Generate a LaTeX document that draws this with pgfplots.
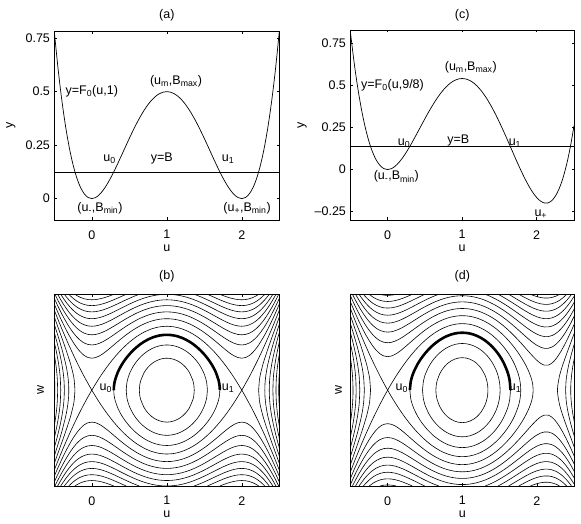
\documentclass[border=0pt]{standalone}
\usepackage{fontspec}
\setmainfont{Liberation Sans}
\usepackage{pgfplots}
\usepackage{pgfplotstable}
\pgfplotsset{compat=1.18}

\pgfplotsset{
  base/.style={scale only axis, anchor=south west, xmin=-0.5, xmax=2.5, clip=true},
  vis/.style={base, xtick={0,1,2}, xticklabels={0,1,2}, tick align=inside, major tick length=2.5pt,
     axis line style={line width=0.6pt}, every tick/.style={black,line width=0.5pt},
     xticklabel style={yshift=-6pt},
     every axis x label/.style={at={(axis description cs:0.5,0)},anchor=center,yshift=-28.5pt},
     xlabel={u}},
  ghost/.style={base, hide axis},
  cl/.style={black, line width=0.6pt, smooth},
  th/.style={black, line width=2.6pt, smooth},
  tl/.style={every axis title/.style={at={(0.5,1)},anchor=center,yshift=#1}},
  yl/.style={every axis y label/.style={at={(axis description cs:0,0.5)},xshift=-#1,rotate=90,anchor=center}},
}

% ---------------- panel (a) curve ----------------
\pgfplotstableread{
u y
-0.50 0.78125
-0.45 0.60775
-0.40 0.4608
-0.35 0.33825
-0.30 0.23805
-0.25 0.15820
-0.20 0.0968
-0.15 0.05200
-0.10 0.02205
-0.05 0.00525
0.00 0
0.05 0.00475
0.10 0.01805
0.15 0.03850
0.20 0.0648
0.25 0.09570
0.30 0.13005
0.35 0.16675
0.40 0.2048
0.45 0.24325
0.50 0.28125
0.55 0.31800
0.60 0.3528
0.65 0.38500
0.70 0.41405
0.75 0.43945
0.80 0.4608
0.85 0.47775
0.90 0.49005
0.95 0.49750
1.00 0.5
1.05 0.49750
1.10 0.49005
1.15 0.47775
1.20 0.4608
1.25 0.43945
1.30 0.41405
1.35 0.38500
1.40 0.3528
1.45 0.31800
1.50 0.28125
1.55 0.24325
1.60 0.2048
1.65 0.16675
1.70 0.13005
1.75 0.09570
1.80 0.0648
1.85 0.03850
1.90 0.01805
1.95 0.00475
2.00 0
2.05 0.00525
2.10 0.02205
2.15 0.05200
2.20 0.0968
2.25 0.15820
2.30 0.23805
2.35 0.33825
2.40 0.4608
2.45 0.60775
2.50 0.78125
}\Fa

% ---------------- panel (c) curve ----------------
\pgfplotstableread{
u y
-0.50 0.822917
-0.45 0.640659
-0.40 0.486133
-0.35 0.357139
-0.30 0.25155
-0.25 0.167318
-0.20 0.102467
-0.15 0.055097
-0.10 0.023383
-0.05 0.005576
0.00 0
0.05 0.005055
0.10 0.019217
0.15 0.041034
0.20 0.069133
0.25 0.102214
0.30 0.13905
0.35 0.178493
0.40 0.219467
0.45 0.260972
0.50 0.302083
0.55 0.341951
0.60 0.3798
0.65 0.414930
0.70 0.446717
0.75 0.474609
0.80 0.498133
0.85 0.516889
0.90 0.53055
0.95 0.538868
1.00 0.541667
1.05 0.538847
1.10 0.530383
1.15 0.516326
1.20 0.4968
1.25 0.472005
1.30 0.442217
1.35 0.407784
1.40 0.369133
1.45 0.326764
1.50 0.28125
1.55 0.233243
1.60 0.183467
1.65 0.132722
1.70 0.081883
1.75 0.031901
1.80 -0.0162
1.85 -0.061320
1.90 -0.102283
1.95 -0.137841
2.00 -0.166667
2.05 -0.187361
2.10 -0.19845
2.15 -0.198382
2.20 -0.185533
2.25 -0.158203
2.30 -0.114617
2.35 -0.052924
2.40 0.0288
2.45 0.132555
2.50 0.260417
}\Fc

% ---------------- panel (b) contours: quarter data (u<=1, w>=0) ----------------
\pgfplotstableread{
u w
-0.5 0.25
-0.495 0.159
-0.4916 0
}\bLsix
\pgfplotstableread{
u w
-0.5 0.5590
-0.49 0.4885
-0.48 0.4087
-0.47 0.3126
-0.46 0.1747
-0.4553 0
}\bLfive
\pgfplotstableread{
u w
-0.5 0.75
-0.475 0.6181
-0.45 0.4642
-0.43 0.3030
-0.42 0.1818
-0.4142 0
}\bLfour
\pgfplotstableread{
u w
-0.5 0.9014
-0.475 0.7950
-0.45 0.6823
-0.425 0.5587
-0.40 0.4142
-0.38 0.2607
-0.37 0.1377
-0.366 0
}\bLthree
\pgfplotstableread{
u w
-0.5 1.0308
-0.45 0.8459
-0.40 0.6493
-0.35 0.4201
-0.33 0.3020
-0.32 0.2262
-0.31 0.1131
-0.3066 0
}\bLtwo
\pgfplotstableread{
u w
-0.5 1.1456
-0.45 0.9826
-0.40 0.8195
-0.35 0.6531
-0.30 0.4755
-0.275 0.3760
-0.25 0.2577
-0.235 0.1608
-0.2247 0
}\bLone
\pgfplotstableread{
u w
0.634 0
0.64 0.0872
0.65 0.1414
0.70 0.2795
0.75 0.3590
0.80 0.4142
0.85 0.4533
0.90 0.4797
0.95 0.4950
1.00 0.5
}\bRthree
\pgfplotstableread{
u w
0.4588 0
0.47 0.1308
0.50 0.25
0.55 0.3688
0.60 0.4534
0.65 0.5196
0.70 0.5728
0.75 0.6156
0.80 0.6493
0.85 0.6749
0.90 0.6929
0.95 0.7036
1.00 0.7071
}\bRtwo
\pgfplotstableread{
u w
0.2929 0
0.295 0.0546
0.30 0.1005
0.31 0.1564
0.35 0.2890
0.40 0.3995
0.45 0.4863
0.50 0.5590
0.55 0.6213
0.60 0.6750
0.65 0.7211
0.70 0.7603
0.75 0.7930
0.80 0.8195
0.85 0.8400
0.90 0.8545
0.95 0.8631
1.00 0.8660
}\bRone
\pgfplotstableread{
u w
-0.5 1.25
-0.4 0.96
-0.3 0.69
-0.2 0.44
-0.1 0.21
0 0
}\bSa
\pgfplotstableread{
u w
0 0
0.1 0.19
0.2 0.36
0.3 0.51
0.4 0.64
0.5 0.75
0.6 0.84
0.7 0.91
0.8 0.96
0.9 0.99
1.0 1.0
}\bSb
\pgfplotstableread{
u w
-0.50 1.3463
-0.45 1.2106
-0.40 1.0824
-0.35 0.9626
-0.30 0.8521
-0.25 0.7526
-0.20 0.6660
-0.15 0.5950
-0.10 0.5423
-0.05 0.5104
0.00 0.5
0.05 0.5094
0.10 0.5349
0.15 0.5718
0.20 0.6161
0.25 0.6644
0.30 0.7142
0.35 0.7639
0.40 0.8122
0.45 0.8582
0.50 0.9014
0.55 0.9413
0.60 0.9775
0.65 1.0100
0.70 1.0383
0.75 1.0625
0.80 1.0824
0.85 1.0980
0.90 1.1091
0.95 1.1158
1.00 1.1180
}\bPone
\pgfplotstableread{
u w
-0.50 1.4361
-0.45 1.3098
-0.40 1.1923
-0.35 1.0847
-0.30 0.9880
-0.25 0.9035
-0.20 0.8328
-0.15 0.7772
-0.10 0.7376
-0.05 0.7145
0.00 0.7071
0.05 0.7138
0.10 0.7322
0.15 0.7596
0.20 0.7935
0.25 0.8315
0.30 0.8718
0.35 0.9130
0.40 0.9537
0.45 0.9932
0.50 1.0308
0.55 1.0658
0.60 1.0980
0.65 1.1269
0.70 1.1524
0.75 1.1743
0.80 1.1923
0.85 1.2064
0.90 1.2166
0.95 1.2227
1.00 1.2247
}\bPtwo
\pgfplotstableread{
u w
-0.4916 1.5
-0.475 1.4602
-0.45 1.4020
-0.40 1.2929
-0.35 1.1944
-0.30 1.1073
-0.25 1.0327
-0.20 0.9714
-0.15 0.9241
-0.10 0.8911
-0.05 0.8721
0.00 0.8660
0.05 0.8715
0.10 0.8866
0.15 0.9094
0.20 0.9379
0.25 0.9703
0.30 1.0050
0.35 1.0409
0.40 1.0769
0.45 1.1120
0.50 1.1456
0.55 1.1773
0.60 1.2065
0.65 1.2329
0.70 1.2562
0.75 1.2763
0.80 1.2929
0.85 1.3059
0.90 1.3153
0.95 1.3210
1.00 1.3229
}\bPthree
\pgfplotstableread{
u w
-0.4553 1.5
-0.45 1.4885
-0.40 1.3862
-0.35 1.2948
-0.30 1.2150
-0.25 1.1473
-0.20 1.0925
-0.15 1.0507
-0.10 1.0218
-0.05 1.0052
0.00 1.0
0.05 1.0047
0.10 1.0179
0.15 1.0378
0.20 1.0628
0.25 1.0915
0.30 1.1225
0.35 1.1548
0.40 1.1873
0.45 1.2192
0.50 1.25
0.55 1.2791
0.60 1.3060
0.65 1.3304
0.70 1.3521
0.75 1.3707
0.80 1.3862
0.85 1.3984
0.90 1.4072
0.95 1.4124
1.00 1.4142
}\bPfour
\pgfplotstableread{
u w
-0.4142 1.5
-0.40 1.4736
-0.35 1.3880
-0.30 1.3138
-0.25 1.2516
-0.20 1.2015
-0.15 1.1636
-0.10 1.1376
-0.05 1.1227
0.00 1.1180
0.05 1.1223
0.10 1.1341
0.15 1.1520
0.20 1.1746
0.25 1.2006
0.30 1.2289
0.35 1.2584
0.40 1.2883
0.45 1.3178
0.50 1.3463
0.55 1.3733
0.60 1.3984
0.65 1.4213
0.70 1.4416
0.75 1.4591
0.80 1.4736
0.85 1.4851
0.90 1.4934
0.95 1.4983
1.00 1.5
}\bPfive
\pgfplotstableread{
u w
-0.366 1.5
-0.35 1.4753
-0.30 1.4057
-0.25 1.3477
-0.20 1.3014
-0.15 1.2665
-0.10 1.2426
-0.05 1.2290
0.00 1.2247
0.05 1.2286
0.10 1.2394
0.15 1.2558
0.20 1.2766
0.25 1.3005
0.30 1.3267
0.35 1.3541
0.40 1.3819
0.45 1.4094
0.50 1.4361
0.55 1.4615
0.60 1.4851
0.634 1.5
}\bPsix
\pgfplotstableread{
u w
-0.3066 1.5
-0.30 1.4920
-0.25 1.4375
-0.20 1.3941
-0.15 1.3616
-0.10 1.3394
-0.05 1.3268
0.00 1.3229
0.05 1.3265
0.10 1.3365
0.15 1.3517
0.20 1.3710
0.25 1.3933
0.30 1.4178
0.35 1.4434
0.40 1.4696
0.45 1.4955
0.4588 1.5
}\bPseven
\pgfplotstableread{
u w
-0.2247 1.5
-0.20 1.4811
-0.15 1.4505
-0.10 1.4297
-0.05 1.4179
0.00 1.4142
0.05 1.4176
0.10 1.4269
0.15 1.4412
0.20 1.4593
0.25 1.4803
0.2929 1.5
}\bPeight

% ---------------- panel (d) contours: upper half (w>=0) ----------------
\pgfplotstableread{
u w
-0.5 0.5204
-0.49 0.4396
-0.48 0.3436
-0.47 0.2126
-0.465 0.0982
-0.4636 0
}\dLfive
\pgfplotstableread{
u w
-0.5 0.7388
-0.49 0.6843
-0.48 0.6270
-0.47 0.5659
-0.46 0.4996
-0.45 0.4258
-0.44 0.3394
-0.43 0.2265
-0.425 0.1419
-0.4217 0
}\dLfour
\pgfplotstableread{
u w
-0.5 0.9060
-0.48 0.8174
-0.45 0.6755
-0.42 0.5143
-0.40 0.3838
-0.39 0.3029
-0.38 0.1954
-0.3726 0
}\dLthree
\pgfplotstableread{
u w
-0.5 1.0468
-0.45 0.8552
-0.40 0.6498
-0.35 0.4053
-0.33 0.2728
-0.32 0.1795
-0.312 0
}\dLtwo
\pgfplotstableread{
u w
-0.5 1.1708
-0.45 1.0032
-0.40 0.8350
-0.35 0.6628
-0.30 0.4776
-0.275 0.3725
-0.25 0.2442
-0.24 0.1753
-0.2287 0
}\dLone
\pgfplotstableread{
u w
0.6463 0
0.65 0.0697
0.66 0.1347
0.70 0.2616
0.75 0.3524
0.80 0.4138
0.85 0.4569
0.90 0.4859
0.95 0.5027
1.00 0.5083
1.05 0.5027
1.10 0.4856
1.15 0.4557
1.20 0.4106
1.25 0.3450
1.30 0.2438
1.32 0.1815
1.33 0.1385
1.34 0.0710
1.3432 0
}\dRthree
\pgfplotstableread{
u w
0.4671 0
0.48 0.1466
0.50 0.2327
0.55 0.3659
0.60 0.4578
0.65 0.5290
0.70 0.5860
0.75 0.6318
0.80 0.6680
0.85 0.6955
0.90 0.7149
0.95 0.7265
1.00 0.7303
1.05 0.7264
1.10 0.7147
1.15 0.6947
1.20 0.6660
1.25 0.6277
1.30 0.5783
1.35 0.5153
1.40 0.4339
1.45 0.3218
1.48 0.2227
1.50 0.1118
1.5065 0
}\dRtwo
\pgfplotstableread{
u w
0.2979 0
0.31 0.1361
0.33 0.2235
0.35 0.2863
0.40 0.4049
0.45 0.4969
0.50 0.5737
0.55 0.6395
0.60 0.6961
0.65 0.7449
0.70 0.7864
0.75 0.8211
0.80 0.8493
0.85 0.8711
0.90 0.8866
0.95 0.8960
1.00 0.8991
1.05 0.8959
1.10 0.8864
1.15 0.8704
1.20 0.8477
1.25 0.8179
1.30 0.7807
1.35 0.7352
1.40 0.6806
1.45 0.6152
1.50 0.5362
1.55 0.4376
1.60 0.3032
1.62 0.2269
1.635 0.1449
1.6453 0
}\dRone
\pgfplotstableread{
u w
2.4519 0
2.454 0.1034
2.465 0.2481
2.48 0.3708
2.50 0.4958
}\dRRone
\pgfplotstableread{
u w
-0.50 1.2829
-0.45 1.1320
-0.40 0.9860
-0.35 0.8452
-0.30 0.7093
-0.25 0.5785
-0.20 0.4527
-0.15 0.3320
-0.10 0.2163
-0.05 0.1056
0 0
}\dSa
\pgfplotstableread{
u w
0 0
0.05 0.1005
0.10 0.1960
0.15 0.2865
0.20 0.3718
0.25 0.4521
0.30 0.5274
0.35 0.5975
0.40 0.6625
0.45 0.7225
0.50 0.7773
0.55 0.8270
0.60 0.8715
0.65 0.9110
0.70 0.9452
0.75 0.9743
0.80 0.9981
0.85 1.0167
0.90 1.0301
0.95 1.0381
1.00 1.0408
1.05 1.0381
1.10 1.0299
1.15 1.0162
1.20 0.9968
1.25 0.9716
1.30 0.9404
1.35 0.9031
1.40 0.8592
1.45 0.8084
1.50 0.75
1.55 0.6830
1.60 0.6058
1.65 0.5152
1.70 0.4047
1.75 0.2526
1.77 0.1573
1.78 0.0741
1.7829 0
}\dSb
\pgfplotstableread{
u w
2.3838 0
2.39 0.1467
2.40 0.2400
2.42 0.3675
2.45 0.5149
2.475 0.6218
2.50 0.7217
}\dSr
\pgfplotstableread{
u w
-0.50 1.3859
-0.45 1.2475
-0.40 1.1168
-0.35 0.9946
-0.30 0.8821
-0.25 0.7808
-0.20 0.6928
-0.15 0.6206
-0.10 0.5672
-0.05 0.5349
0.00 0.5244
0.05 0.5340
0.10 0.5599
0.15 0.5976
0.20 0.6429
0.25 0.6924
0.30 0.7437
0.35 0.7950
0.40 0.8449
0.45 0.8927
0.50 0.9376
0.55 0.9792
0.60 1.0172
0.65 1.0511
0.70 1.0809
0.75 1.1064
0.80 1.1275
0.85 1.1440
0.90 1.1559
0.95 1.1631
1.00 1.1655
1.05 1.1631
1.10 1.1558
1.15 1.1435
1.20 1.1263
1.25 1.1041
1.30 1.0768
1.35 1.0443
1.40 1.0066
1.45 0.9636
1.50 0.9151
1.55 0.8611
1.60 0.8012
1.65 0.7351
1.70 0.6624
1.75 0.5821
1.80 0.4925
1.85 0.3903
1.90 0.2654
1.93 0.1622
1.942 0.0985
1.9495 0
}\dPone
\pgfplotstableread{
u w
2.27375 0
2.28 0.0822
2.30 0.2139
2.32 0.3009
2.35 0.4113
2.40 0.5767
2.45 0.7349
2.50 0.8921
}\dPoneR
\pgfplotstableread{
u w
-0.50 1.4818
-0.45 1.3533
-0.40 1.2338
-0.35 1.1244
-0.30 1.0262
-0.25 0.9406
-0.20 0.8689
-0.15 0.8125
-0.10 0.7725
-0.05 0.7491
0.00 0.7416
0.05 0.7484
0.10 0.7671
0.15 0.7950
0.20 0.8296
0.25 0.8686
0.30 0.9100
0.35 0.9524
0.40 0.9945
0.45 1.0353
0.50 1.0743
0.55 1.1108
0.60 1.1444
0.65 1.1747
0.70 1.2014
0.75 1.2244
0.80 1.2435
0.85 1.2585
0.90 1.2693
0.95 1.2758
1.00 1.2780
1.05 1.2758
1.10 1.2692
1.15 1.2580
1.20 1.2424
1.25 1.2223
1.30 1.1977
1.35 1.1686
1.40 1.1350
1.45 1.0971
1.50 1.0548
1.55 1.0082
1.60 0.9576
1.65 0.9030
1.70 0.8449
1.75 0.7835
1.80 0.7194
1.85 0.6537
1.90 0.5877
1.95 0.5238
2.00 0.4655
2.05 0.4187
2.10 0.3913
2.15 0.3915
2.20 0.4230
2.25 0.4833
2.30 0.5664
2.35 0.6664
2.40 0.7795
2.45 0.9028
2.50 1.0348
}\dPtwo
\pgfplotstableread{
u w
-0.4707 1.5
-0.45 1.4513
-0.40 1.3406
-0.35 1.2407
-0.30 1.1524
-0.25 1.0769
-0.20 1.0149
-0.15 0.9671
-0.10 0.9337
-0.05 0.9144
0.00 0.9083
0.05 0.9138
0.10 0.9292
0.15 0.9524
0.20 0.9815
0.25 1.0146
0.30 1.0503
0.35 1.0872
0.40 1.1242
0.45 1.1606
0.50 1.1955
0.55 1.2284
0.60 1.2588
0.65 1.2864
0.70 1.3109
0.75 1.3320
0.80 1.3496
0.85 1.3634
0.90 1.3734
0.95 1.3794
1.00 1.3814
1.05 1.3794
1.10 1.3732
1.15 1.3630
1.20 1.3486
1.25 1.3300
1.30 1.3075
1.35 1.2809
1.40 1.2503
1.45 1.2160
1.50 1.1779
1.55 1.1364
1.60 1.0918
1.65 1.0442
1.70 0.9944
1.75 0.9428
1.80 0.8903
1.85 0.8381
1.90 0.7877
1.95 0.7412
2.00 0.7012
2.05 0.6710
2.10 0.6543
2.15 0.6544
2.20 0.6737
2.25 0.7132
2.30 0.7719
2.35 0.8480
2.40 0.9395
2.45 1.0441
2.50 1.1601
}\dPthree
\pgfplotstableread{
u w
-0.4298 1.5
-0.40 1.4395
-0.35 1.3470
-0.30 1.2661
-0.25 1.1978
-0.20 1.1423
-0.15 1.1001
-0.10 1.0709
-0.05 1.0541
0.00 1.0488
0.05 1.0536
0.10 1.0670
0.15 1.0872
0.20 1.1128
0.25 1.1421
0.30 1.1739
0.35 1.2070
0.40 1.2405
0.45 1.2736
0.50 1.3054
0.55 1.3356
0.60 1.3637
0.65 1.3892
0.70 1.4119
0.75 1.4315
0.80 1.4479
0.85 1.4607
0.90 1.4701
0.95 1.4757
1.00 1.4776
1.05 1.4757
1.10 1.4700
1.15 1.4604
1.20 1.4469
1.25 1.4297
1.30 1.4087
1.35 1.3840
1.40 1.3558
1.45 1.3242
1.50 1.2894
1.55 1.2516
1.60 1.2112
1.65 1.1685
1.70 1.1242
1.75 1.0788
1.80 1.0332
1.85 0.9886
1.90 0.9463
1.95 0.9079
2.00 0.8756
2.05 0.8516
2.10 0.8385
2.15 0.8386
2.20 0.8538
2.25 0.8852
2.30 0.9332
2.35 0.9971
2.40 1.0759
2.45 1.1684
2.50 1.2731
}\dPfour
\pgfplotstableread{
u w
-0.3822 1.5
-0.35 1.4454
-0.30 1.3704
-0.25 1.3075
-0.20 1.2570
-0.15 1.2187
-0.10 1.1924
-0.05 1.1773
0.00 1.1726
0.05 1.1769
0.10 1.1889
0.15 1.2071
0.20 1.2302
0.25 1.2568
0.30 1.2857
0.35 1.3161
0.40 1.3468
0.45 1.3773
0.50 1.4068
0.55 1.4349
0.60 1.4610
0.65 1.4849
0.6855 1.5
}\dPfiveA
\pgfplotstableread{
u w
1.3068 1.5
1.35 1.4801
1.40 1.4537
1.45 1.4243
1.50 1.3919
1.55 1.3570
1.60 1.3198
1.65 1.2808
1.70 1.2405
1.75 1.1995
1.80 1.1587
1.85 1.1191
1.90 1.0819
1.95 1.0485
2.00 1.0206
2.05 1.0001
2.10 0.9890
2.15 0.9891
2.20 1.0020
2.25 1.0289
2.30 1.0704
2.35 1.1266
2.40 1.1969
2.45 1.2807
2.50 1.3769
}\dPfiveB
\pgfplotstableread{
u w
-0.3242 1.5
-0.30 1.4673
-0.25 1.4088
-0.20 1.3620
-0.15 1.3267
-0.10 1.3026
-0.05 1.2889
0.00 1.2845
0.05 1.2885
0.10 1.2994
0.15 1.3161
0.20 1.3373
0.25 1.3618
0.30 1.3886
0.35 1.4167
0.40 1.4453
0.45 1.4738
0.4974 1.5
}\dPsixA
\pgfplotstableread{
u w
1.4794 1.5
1.50 1.4875
1.55 1.4548
1.60 1.4202
1.65 1.3840
1.70 1.3468
1.75 1.3091
1.80 1.2719
1.85 1.2359
1.90 1.2023
1.95 1.1723
2.00 1.1475
2.05 1.1293
2.10 1.1194
2.15 1.1195
2.20 1.1309
2.25 1.1548
2.30 1.1920
2.35 1.2426
2.40 1.3068
2.45 1.3839
2.50 1.4734
}\dPsixB
\pgfplotstableread{
u w
-0.2465 1.5
-0.20 1.4594
-0.15 1.4266
-0.10 1.4042
-0.05 1.3915
0.00 1.3874
0.05 1.3911
0.10 1.4012
0.15 1.4167
0.20 1.4364
0.25 1.4593
0.30 1.4843
0.3297 1.5
}\dPsevenA
\pgfplotstableread{
u w
1.6207 1.5
1.65 1.4800
1.70 1.4453
1.75 1.4102
1.80 1.3757
1.85 1.3425
1.90 1.3117
1.95 1.2843
2.00 1.2616
2.05 1.2451
2.10 1.2362
2.15 1.2362
2.20 1.2466
2.25 1.2683
2.30 1.3022
2.35 1.3488
2.40 1.4081
2.45 1.4799
2.4617 1.5
}\dPsevenB
\pgfplotstableread{
u w
-0.1025 1.5
-0.05 1.4870
0.00 1.4832
0.05 1.4866
0.10 1.4961
0.1133 1.5
}\dPeightA
\pgfplotstableread{
u w
1.7572 1.5
1.80 1.4723
1.85 1.4413
1.90 1.4126
1.95 1.3872
2.00 1.3663
2.05 1.3510
2.10 1.3428
2.15 1.3428
2.20 1.3524
2.25 1.3724
2.30 1.4038
2.35 1.4471
2.3977 1.5
}\dPeightB
\pgfplotstableread{
u w
1.9144 1.5
1.95 1.4830
2.00 1.4634
2.05 1.4492
2.10 1.4416
2.15 1.4416
2.20 1.4505
2.25 1.4692
2.30 1.4986
2.3017 1.5
}\dPnine

\newcommand{\bcurves}{%
\addplot[cl] table {\bLsix};
\addplot[cl] table {\bLfive};
\addplot[cl] table {\bLfour};
\addplot[cl] table {\bLthree};
\addplot[cl] table {\bLtwo};
\addplot[cl] table {\bLone};
\addplot[cl] table {\bRthree};
\addplot[cl] table {\bRtwo};
\addplot[cl] table {\bRone};
\addplot[cl] table {\bSa};
\addplot[cl] table {\bSb};
\addplot[cl] table {\bPone};
\addplot[cl] table {\bPtwo};
\addplot[cl] table {\bPthree};
\addplot[cl] table {\bPfour};
\addplot[cl] table {\bPfive};
\addplot[cl] table {\bPsix};
\addplot[cl] table {\bPseven};
\addplot[cl] table {\bPeight};
}
\newcommand{\dcurves}{%
\addplot[cl] table {\dLfive};
\addplot[cl] table {\dLfour};
\addplot[cl] table {\dLthree};
\addplot[cl] table {\dLtwo};
\addplot[cl] table {\dLone};
\addplot[cl] table {\dRthree};
\addplot[cl] table {\dRtwo};
\addplot[cl] table {\dRone};
\addplot[cl] table {\dRRone};
\addplot[cl] table {\dSa};
\addplot[cl] table {\dSb};
\addplot[cl] table {\dSr};
\addplot[cl] table {\dPone};
\addplot[cl] table {\dPoneR};
\addplot[cl] table {\dPtwo};
\addplot[cl] table {\dPthree};
\addplot[cl] table {\dPfour};
\addplot[cl] table {\dPfiveA};
\addplot[cl] table {\dPfiveB};
\addplot[cl] table {\dPsixA};
\addplot[cl] table {\dPsixB};
\addplot[cl] table {\dPsevenA};
\addplot[cl] table {\dPsevenB};
\addplot[cl] table {\dPeightA};
\addplot[cl] table {\dPeightB};
\addplot[cl] table {\dPnine};
}

\begin{document}
\fontsize{12.5}{15}\selectfont
\begin{tikzpicture}
\path[use as bounding box] (0,0) rectangle (581pt,524pt);

% ---------------- (a) ----------------
\begin{axis}[vis, at={(54.3pt,304pt)}, width=225pt, height=188.3pt,
  ymin=-0.1, ymax=0.78, ytick={0,0.25,0.5,0.75}, yticklabels={0,0.25,0.5,0.75},
  title={(a)}, tl=16.4pt, ylabel={y}, yl=43.5pt]
\addplot[black, line width=0.7pt, smooth] table {\Fa};
\addplot[black, line width=0.6pt] coordinates {(-0.5,0.125) (2.5,0.125)};
\node[anchor=base] at (axis cs:0,0.487) {y=F\textsubscript{0}(u,1)};
\node[anchor=base] at (axis cs:1.123,0.531) {(u\textsubscript{m},B\textsubscript{max})};
\node[anchor=base] at (axis cs:0.236,0.175) {u\textsubscript{0}};
\node[anchor=base] at (axis cs:0.932,0.172) {y=B};
\node[anchor=base] at (axis cs:1.816,0.175) {u\textsubscript{1}};
\node[anchor=base] at (axis cs:0.109,-0.061) {(u\textsubscript{-},B\textsubscript{min})};
\node[anchor=base] at (axis cs:2.07,-0.061) {(u\textsubscript{+},B\textsubscript{min})};
\end{axis}

% ---------------- (c) ----------------
\begin{axis}[vis, at={(350.3pt,304pt)}, width=223.7pt, height=190pt,
  ymin=-0.3, ymax=0.83, ytick={-0.25,0,0.25,0.5,0.75}, yticklabels={--0.25,0,0.25,0.5,0.75},
  title={(c)}, tl=14.7pt, ylabel={y}, yl=48.3pt]
\addplot[black, line width=0.7pt, smooth] table {\Fc};
\addplot[black, line width=0.6pt] coordinates {(-0.5,0.1375) (2.5,0.1375)};
\node[anchor=base] at (axis cs:0.066,0.484) {y=F\textsubscript{0}(u,9/8)};
\node[anchor=base] at (axis cs:1.116,0.587) {(u\textsubscript{m},B\textsubscript{max})};
\node[anchor=base] at (axis cs:0.22,0.142) {u\textsubscript{0}};
\node[anchor=base] at (axis cs:0.948,0.156) {y=B};
\node[anchor=base] at (axis cs:1.708,0.142) {u\textsubscript{1}};
\node[anchor=base] at (axis cs:0.117,-0.062) {(u\textsubscript{-},B\textsubscript{min})};
\node[anchor=base] at (axis cs:2.055,-0.28) {u\textsubscript{+}};
\end{axis}

% ---------------- (b) ----------------
\begin{axis}[ghost, at={(54.3pt,38pt)}, width=225pt, height=191.7pt, ymin=-1.5, ymax=1.5, x dir=reverse]
\bcurves
\addplot[th] table {\bRone};
\end{axis}
\begin{axis}[ghost, at={(54.3pt,38pt)}, width=225pt, height=191.7pt, ymin=-1.5, ymax=1.5, y dir=reverse]
\bcurves
\end{axis}
\begin{axis}[ghost, at={(54.3pt,38pt)}, width=225pt, height=191.7pt, ymin=-1.5, ymax=1.5, x dir=reverse, y dir=reverse]
\bcurves
\end{axis}
\begin{axis}[vis, at={(54.3pt,38pt)}, width=225pt, height=191.7pt, ymin=-1.5, ymax=1.5,
  ytick=\empty, title={(b)}, tl=18pt, ylabel={w}, yl=13.8pt]
\bcurves
\node[anchor=base] at (axis cs:0.187,-0.01) {u\textsubscript{0}};
\node[anchor=base] at (axis cs:1.816,-0.01) {u\textsubscript{1}};
\addplot[th] table {\bRone};
\end{axis}

% ---------------- (d) ----------------
\begin{axis}[ghost, at={(350.3pt,38pt)}, width=224pt, height=191.7pt, ymin=-1.5, ymax=1.5, y dir=reverse]
\dcurves
\end{axis}
\begin{axis}[vis, at={(350.3pt,38pt)}, width=224pt, height=191.7pt, ymin=-1.5, ymax=1.5,
  ytick=\empty, title={(d)}, tl=18.5pt, ylabel={w}, yl=11.8pt]
\dcurves
\node[anchor=base] at (axis cs:0.189,0) {u\textsubscript{0}};
\node[anchor=base] at (axis cs:1.706,0) {u\textsubscript{1}};
\addplot[th] table {\dRone};
\end{axis}
\end{tikzpicture}
\end{document}
